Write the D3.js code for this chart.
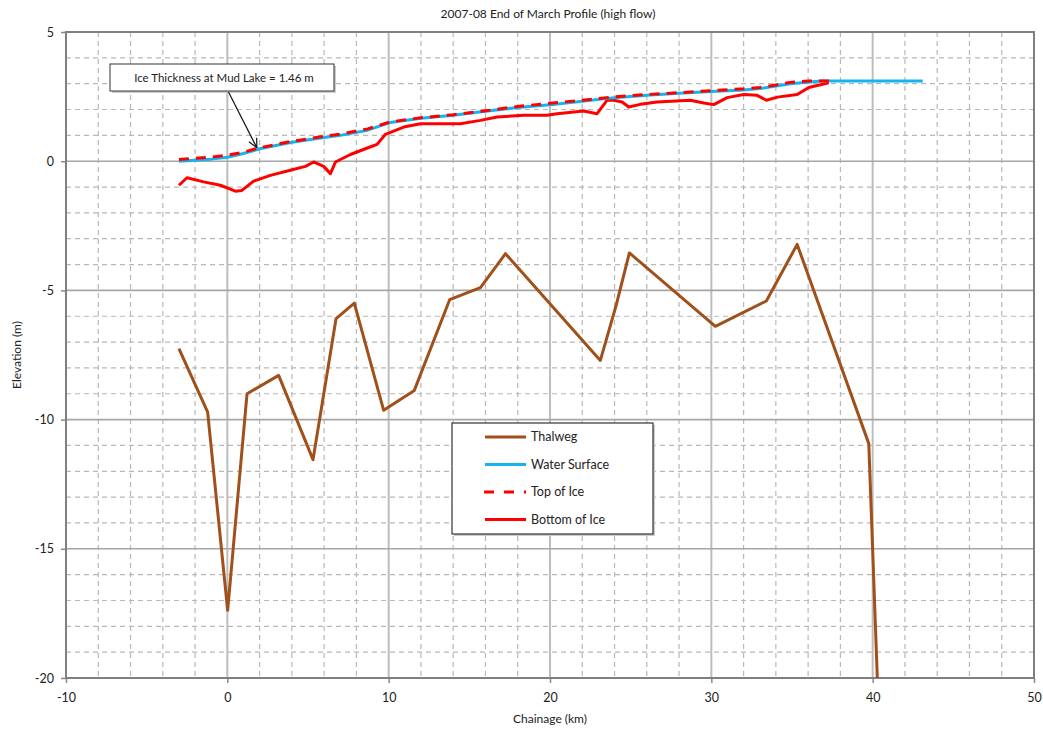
<!DOCTYPE html>
<html><head><meta charset="utf-8">
<script src="https://cdn.jsdelivr.net/npm/d3@7"></script>
<style>
body{margin:0;background:#fff;}
text{font-family:"Lato","Open Sans",sans-serif;fill:#222;}
</style></head>
<body><svg id="c" width="1043" height="730"></svg>
<script>
const xTicks = [-10, 0, 10, 20, 30, 40, 50];
const yTicks = [5, 0, -5, -10, -15, -20];

const thalwegX = [-3.0, -1.22, 0.02, 1.22, 3.18, 5.31, 6.74, 7.87, 9.69, 11.59, 13.78, 15.69, 17.24, 23.12, 24.1, 24.92, 30.25, 33.41, 35.32, 39.76, 40.3];
const thalwegY = [-7.25, -9.71, -17.38, -9.0, -8.29, -11.55, -6.09, -5.49, -9.64, -8.87, -5.36, -4.89, -3.58, -7.71, -5.58, -3.55, -6.39, -5.41, -3.22, -10.93, -20.2];

const waterX = [-3, -1, 0, 1, 2, 4, 6, 7, 8.7, 10.1, 12, 14, 16, 18, 20, 22, 24, 26, 28, 30, 32, 33, 34.9, 36.8, 38, 40, 43.1];
const waterY = [0.0, 0.08, 0.15, 0.3, 0.48, 0.73, 0.92, 1.0, 1.2, 1.5, 1.66, 1.78, 1.93, 2.08, 2.18, 2.32, 2.46, 2.55, 2.63, 2.7, 2.76, 2.81, 3.0, 3.1, 3.1, 3.1, 3.1];

const topIceX = [-3, -1, 0, 1, 2, 4, 6, 7, 8.7, 10.1, 12, 14, 16, 18, 20, 22, 24, 26, 28, 30, 32, 33, 34, 35, 36, 37.3];
const topIceY = [0.07, 0.16, 0.23, 0.35, 0.52, 0.77, 0.96, 1.05, 1.25, 1.52, 1.68, 1.8, 1.95, 2.12, 2.24, 2.36, 2.49, 2.58, 2.65, 2.73, 2.8, 2.85, 2.95, 3.06, 3.1, 3.1];

const botIceX = [-3.0, -2.5, -1.47, -0.43, 0.5, 0.9, 1.63, 2.67, 3.9, 4.84, 5.35, 5.97, 6.39, 6.7, 7.63, 8.76, 9.28, 9.8, 10.93, 11.97, 14.45, 15.69, 16.72, 18.37, 19.82, 20.44, 21.47, 22.09, 22.92, 23.54, 23.95, 24.47, 24.88, 25.6, 26.64, 28.7, 29.53, 30.15, 30.98, 32.01, 32.84, 33.41, 34.1, 35.32, 36.04, 36.76, 37.28];
const botIceY = [-0.93, -0.64, -0.8, -0.93, -1.16, -1.13, -0.77, -0.55, -0.35, -0.2, -0.03, -0.2, -0.48, -0.03, 0.26, 0.53, 0.65, 1.04, 1.32, 1.45, 1.45, 1.58, 1.71, 1.78, 1.78, 1.84, 1.9, 1.94, 1.84, 2.36, 2.36, 2.29, 2.1, 2.2, 2.29, 2.36, 2.25, 2.19, 2.46, 2.58, 2.55, 2.36, 2.48, 2.58, 2.85, 2.96, 3.03];

const seriesNames = ["Thalweg", "Water Surface", "Top of Ice", "Bottom of Ice"];
const annotationText = "Ice Thickness at Mud Lake = 1.46 m";
const annotationPoint = [1.83, 0.52];

const svg = d3.select("#c");
const L = 66, R = 1034, T = 32, B = 678;
const x = d3.scaleLinear().domain([-10, 50]).range([L, R]);
const y = d3.scaleLinear().domain([-20, 5]).range([B, T]);

// minor grid
const g = svg.append("g");
d3.range(-10, 50.01, 2).filter(v => v % 10 !== 0).forEach(v => {
  g.append("line").attr("x1", x(v)).attr("x2", x(v)).attr("y1", T).attr("y2", B)
   .attr("stroke", "#b8b8b8").attr("stroke-width", 1.2).attr("stroke-dasharray", "5,4");
});
d3.range(-20, 5.01, 1).filter(v => v % 5 !== 0).forEach(v => {
  g.append("line").attr("x1", L).attr("x2", R).attr("y1", y(v)).attr("y2", y(v))
   .attr("stroke", "#b8b8b8").attr("stroke-width", 1.2).attr("stroke-dasharray", "5,4");
});
// major grid
xTicks.forEach(v => {
  g.append("line").attr("x1", x(v)).attr("x2", x(v)).attr("y1", T).attr("y2", B)
   .attr("stroke", "#bdbdbd").attr("stroke-width", 2);
});
yTicks.forEach(v => {
  g.append("line").attr("x1", L).attr("x2", R).attr("y1", y(v)).attr("y2", y(v))
   .attr("stroke", "#a6a6a6").attr("stroke-width", 1.6);
});

// axes
const fmt = d => String(d);
const xAxis = d3.axisBottom(x).tickValues(xTicks).tickFormat(fmt).tickSize(5).tickPadding(10);
const yAxis = d3.axisLeft(y).tickValues(yTicks).tickFormat(fmt).tickSize(5).tickPadding(7);
const ax = svg.append("g").attr("transform", `translate(0,${B})`).call(xAxis);
const ay = svg.append("g").attr("transform", `translate(${L},0)`).call(yAxis);
[ax, ay].forEach(a => {
  a.select(".domain").remove();
  a.selectAll("line").attr("stroke", "#888").attr("stroke-width", 1.5);
  a.selectAll("text").attr("font-size", 12.5).attr("fill", "#222").style("font-family", "Lato, sans-serif");
});
ay.selectAll("text").attr("dy", "0.32em");

// frame
svg.append("rect").attr("x", L).attr("y", T).attr("width", R - L).attr("height", B - T)
  .attr("fill", "none").attr("stroke", "#7f7f7f").attr("stroke-width", 2);

// clip
svg.append("clipPath").attr("id", "clip").append("rect")
  .attr("x", L).attr("y", T).attr("width", R - L).attr("height", B - T);

const line = d3.line().x(d => x(d[0])).y(d => y(d[1]));
const plot = svg.append("g").attr("clip-path", "url(#clip)");
const zip = (a, b) => a.map((v, i) => [v, b[i]]);

plot.append("path").datum(zip(thalwegX, thalwegY)).attr("d", line)
  .attr("fill", "none").attr("stroke", "#a0501a").attr("stroke-width", 3).attr("stroke-linejoin", "round");
plot.append("path").datum(zip(botIceX, botIceY)).attr("d", line)
  .attr("fill", "none").attr("stroke", "#ff0000").attr("stroke-width", 3).attr("stroke-linejoin", "round");
plot.append("path").datum(zip(waterX, waterY)).attr("d", line)
  .attr("fill", "none").attr("stroke", "#14b4f0").attr("stroke-width", 3).attr("stroke-linejoin", "round");
plot.append("path").datum(zip(topIceX, topIceY)).attr("d", line)
  .attr("fill", "none").attr("stroke", "#ff0000").attr("stroke-width", 3).attr("stroke-dasharray", "10,7");

// annotation
const bx = 110, by = 64, bw = 224, bh = 27;
svg.append("rect").attr("x", bx + 2).attr("y", by + 2).attr("width", bw).attr("height", bh).attr("fill", "#ccc");
svg.append("rect").attr("x", bx).attr("y", by).attr("width", bw).attr("height", bh)
  .attr("fill", "#fff").attr("stroke", "#333").attr("stroke-width", 1);
svg.append("text").attr("x", bx + bw / 2 + 2).attr("y", by + bh / 2).attr("dy", "0.35em")
  .attr("text-anchor", "middle").attr("font-size", 11.5).text(annotationText);
const ax0 = 228.5, ay0 = by + bh + 1;
const tx = x(annotationPoint[0]), ty = y(annotationPoint[1]);
svg.append("line").attr("x1", ax0).attr("y1", ay0).attr("x2", tx).attr("y2", ty)
  .attr("stroke", "#111").attr("stroke-width", 1.2);
const ang = Math.atan2(ty - ay0, tx - ax0);
[0.45, -0.45].forEach(da => {
  svg.append("line").attr("x1", tx).attr("y1", ty)
    .attr("x2", tx - 10 * Math.cos(ang + da)).attr("y2", ty - 10 * Math.sin(ang + da))
    .attr("stroke", "#111").attr("stroke-width", 1.2);
});

// legend
const lg = svg.append("g");
lg.append("rect").attr("x", 454).attr("y", 425).attr("width", 201).attr("height", 111).attr("fill", "#ccc");
lg.append("rect").attr("x", 452).attr("y", 423).attr("width", 201).attr("height", 111)
  .attr("fill", "#fff").attr("stroke", "#333").attr("stroke-width", 1.2);
const styles = [
  {c: "#a0501a", d: null}, {c: "#14b4f0", d: null}, {c: "#ff0000", d: "10,10"}, {c: "#ff0000", d: null}
];
seriesNames.forEach((n, i) => {
  const yy = 437 + i * 27.5;
  const ln = lg.append("line").attr("x1", 485).attr("x2", 526).attr("y1", yy).attr("y2", yy)
    .attr("stroke", styles[i].c).attr("stroke-width", 3);
  if (styles[i].d) ln.attr("stroke-dasharray", styles[i].d).attr("x1", 484);
  lg.append("text").attr("x", 531).attr("y", yy).attr("dy", "0.35em").attr("font-size", 12.5).text(n);
});

// titles
svg.append("text").attr("x", 548).attr("y", 14).attr("dy", "0.35em").attr("text-anchor", "middle")
  .attr("font-size", 12).text("2007-08 End of March Profile (high flow)");
svg.append("text").attr("x", 550).attr("y", 719).attr("dy", "0.35em").attr("text-anchor", "middle")
  .attr("font-size", 12).text("Chainage (km)");
svg.append("text").attr("transform", "translate(17,355) rotate(-90)").attr("dy", "0.35em")
  .attr("text-anchor", "middle").attr("font-size", 12).text("Elevation (m)");
</script></body></html>
